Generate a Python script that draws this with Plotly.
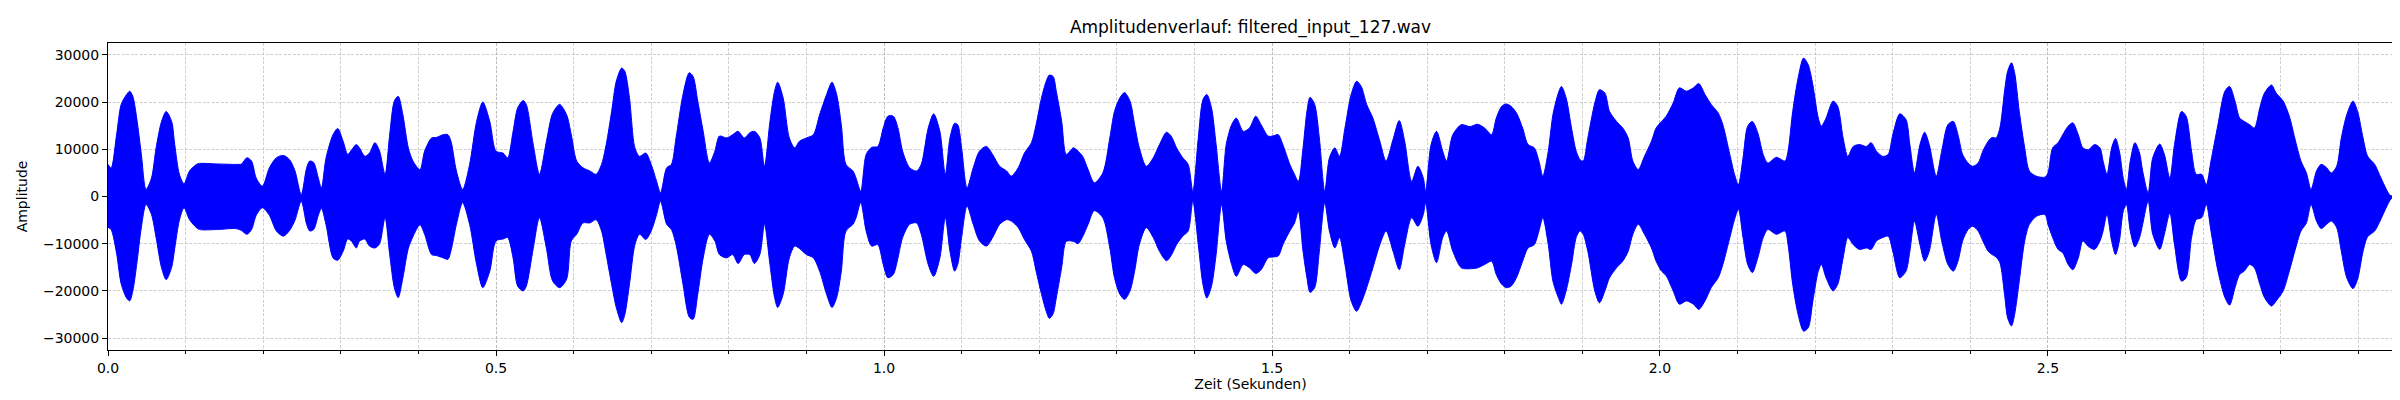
import plotly.graph_objects as go

TITLE = "Amplitudenverlauf: filtered_input_127.wav"

# sample times (s) with the upper / lower envelope of the waveform
TIME = [
    0.000, 0.004, 0.011, 0.017, 0.024, 0.028, 0.032, 0.037, 0.043, 0.049,
    0.056, 0.062, 0.069, 0.075, 0.082, 0.086, 0.092, 0.098, 0.105, 0.114,
    0.118, 0.140, 0.165, 0.172, 0.179, 0.185, 0.191, 0.199, 0.208, 0.217,
    0.226, 0.234, 0.241, 0.249, 0.256, 0.260, 0.265, 0.271, 0.275, 0.281,
    0.290, 0.296, 0.303, 0.309, 0.314, 0.320, 0.324, 0.331, 0.337, 0.344,
    0.350, 0.357, 0.363, 0.369, 0.374, 0.380, 0.387, 0.393, 0.402, 0.408,
    0.417, 0.423, 0.432, 0.438, 0.442, 0.449, 0.457, 0.466, 0.475, 0.483,
    0.492, 0.500, 0.509, 0.515, 0.522, 0.528, 0.535, 0.539, 0.548, 0.556,
    0.565, 0.573, 0.582, 0.591,
    0.597, 0.604, 0.612, 0.621, 0.629, 0.636, 0.642, 0.649, 0.655, 0.662,
    0.666, 0.672, 0.679, 0.685, 0.693, 0.700, 0.707, 0.712, 0.720, 0.726,
    0.732, 0.741, 0.749, 0.754, 0.760, 0.767, 0.775, 0.782, 0.788, 0.797,
    0.805, 0.812, 0.820, 0.827, 0.833, 0.840, 0.846, 0.853, 0.859, 0.863,
    0.870, 0.878, 0.885, 0.891, 0.900, 0.909, 0.917, 0.926, 0.933, 0.939,
    0.945, 0.951, 0.960, 0.964, 0.970, 0.977, 0.984, 0.992, 0.999, 1.005,
    1.012, 1.018, 1.024, 1.033, 1.042, 1.048, 1.057, 1.064, 1.072, 1.079,
    1.085, 1.091, 1.095, 1.100, 1.107, 1.115, 1.123, 1.132, 1.140, 1.149,
    1.158, 1.164, 1.173, 1.181, 1.190,
    1.196, 1.203, 1.209, 1.213, 1.218, 1.222, 1.229, 1.235, 1.244, 1.250,
    1.256, 1.263, 1.271, 1.282, 1.291, 1.297, 1.304, 1.310, 1.317, 1.323,
    1.329, 1.338, 1.347, 1.355, 1.364, 1.370, 1.377, 1.385, 1.392, 1.398,
    1.405, 1.411, 1.416, 1.422, 1.428, 1.435, 1.441, 1.448, 1.454, 1.463,
    1.471, 1.479, 1.486, 1.495, 1.501, 1.508, 1.514, 1.523, 1.529, 1.534,
    1.540, 1.545, 1.549, 1.555, 1.561, 1.568, 1.574, 1.581, 1.587, 1.594,
    1.602, 1.609, 1.615, 1.622, 1.630, 1.639, 1.647, 1.656, 1.664, 1.671,
    1.680, 1.688, 1.695, 1.698, 1.705, 1.712, 1.720, 1.725, 1.733, 1.744,
    1.755, 1.765, 1.774, 1.783,
    1.789, 1.796, 1.802, 1.808, 1.815, 1.823, 1.830, 1.838, 1.844, 1.849,
    1.856, 1.862, 1.869, 1.873, 1.879, 1.886, 1.892, 1.897, 1.901, 1.907,
    1.916, 1.922, 1.929, 1.935, 1.944, 1.952, 1.959, 1.965, 1.972, 1.980,
    1.989, 1.995, 2.002, 2.008, 2.017, 2.025, 2.034, 2.043, 2.050, 2.058,
    2.066, 2.075, 2.081, 2.090, 2.096, 2.101, 2.107, 2.113, 2.119, 2.126,
    2.133, 2.139, 2.150, 2.161, 2.165, 2.171, 2.178, 2.185, 2.191, 2.197,
    2.204, 2.208, 2.214, 2.223, 2.229, 2.236, 2.242, 2.249, 2.257, 2.266,
    2.272, 2.279, 2.287, 2.294, 2.300, 2.309, 2.317, 2.322, 2.328, 2.335,
    2.341, 2.347, 2.356, 2.363, 2.371, 2.378,
    2.384, 2.390, 2.397, 2.403, 2.410, 2.416, 2.423, 2.428, 2.433, 2.438,
    2.444, 2.448, 2.453, 2.457, 2.463, 2.470, 2.476, 2.485, 2.496, 2.500,
    2.506, 2.513, 2.519, 2.526, 2.532, 2.539, 2.545, 2.552, 2.560, 2.567,
    2.571, 2.576, 2.582, 2.587, 2.592, 2.597, 2.601, 2.606, 2.612, 2.618,
    2.622, 2.629, 2.635, 2.644, 2.650, 2.657, 2.663, 2.672, 2.678, 2.685,
    2.691, 2.698, 2.704, 2.710, 2.719, 2.728, 2.734, 2.741, 2.747, 2.753,
    2.760, 2.766, 2.773, 2.779, 2.788, 2.794, 2.803, 2.811, 2.818, 2.826,
    2.833, 2.839, 2.846, 2.852, 2.859, 2.865, 2.872, 2.878, 2.885, 2.893,
    2.899, 2.906, 2.912, 2.921, 2.927, 2.934, 2.940, 2.944,
]

UPPER = [
    6800, 6000, 13000, 19500, 21600, 22300, 21200, 16600, 8900, 1500,
    3900, 10300, 15900, 18000, 15900, 11000, 4700, 2700, 5400, 6800,
    7000, 6900, 6800, 6900, 8200, 7500, 3900, 2200, 6100, 8200,
    8700, 7800, 5400, 400, 6100, 7500, 7200, 3900, 1800, 8200,
    13100, 14400, 11700, 8900, 9900, 11000, 10300, 8500, 9200, 11400,
    9600, 4700, 13100, 20200, 21200, 17300, 10300, 7500, 5700, 9600,
    12400, 12500, 13100, 13100, 11700, 5400, 1500, 6800, 15900, 20000,
    15900, 9600, 9200, 8200, 13800, 18800, 20300, 19500, 11000, 4700,
    11700, 17600, 19500, 17300,
    13100, 7500, 6100, 5400, 4700, 6800, 11000, 18000, 24400, 27200,
    26500, 20900, 10300, 8500, 9200, 6800, 3200, 800, 6100, 6800,
    12400, 21600, 26200, 25400, 20200, 13800, 7100, 9600, 12800, 12400,
    13100, 13800, 12400, 13500, 13800, 12400, 6400, 15900, 22300, 24200,
    20900, 12400, 10300, 11700, 12400, 13100, 17300, 21600, 24200, 21600,
    15200, 6800, 5400, 3900, 1100, 8900, 10400, 10600, 14500, 17000,
    17000, 14500, 9600, 6100, 5400, 6800, 14500, 17500, 13800, 4700,
    12400, 15500, 15200, 10300, 1800, 6100, 9600, 10600, 8900, 6400,
    5400, 4300, 6100, 9200, 11400,
    15200, 20900, 24400, 25700, 25400, 22300, 15900, 8900, 10300, 9600,
    8500, 5700, 2900, 5000, 12400, 18000, 20900, 22000, 20200, 15200,
    10300, 6400, 8200, 11000, 13600, 12800, 10300, 8200, 6800, 1100,
    12400, 20500, 21600, 18800, 11000, 1100, 11000, 15200, 16600, 13800,
    14500, 17000, 15200, 12800, 12800, 13100, 11000, 6800, 4700, 3200,
    10300, 18000, 21000, 19500, 12400, 1100, 8200, 10300, 8500, 14500,
    21600, 24400, 23300, 19500, 16600, 11700, 7500, 12100, 16100, 11700,
    3200, 6400, 3900, 1100, 11000, 13800, 9600, 7500, 13100, 15200,
    14800, 15300, 14500, 13100,
    16600, 19100, 19600, 19100, 17700, 14500, 11000, 10300, 7500, 4300,
    9600, 17300, 21900, 23300, 20900, 14500, 9600, 7800, 7500, 12400,
    19800, 22600, 21900, 18000, 15900, 14500, 12400, 7500, 5700, 8500,
    11700, 14500, 15900, 17000, 19800, 23000, 22300, 23000, 23900, 21600,
    19500, 17700, 15200, 8900, 4700, 2500, 8200, 14900, 15900, 13500,
    8900, 7100, 8300, 7500, 9600, 18000, 25100, 29300, 27900, 23600,
    16600, 14900, 16600, 20200, 19100, 12400, 8500, 10600, 11000, 10600,
    11400, 9600, 8500, 8900, 13100, 17500, 16300, 11000, 5000, 11000,
    13600, 11000, 4300, 9600, 15200, 15900,
    13100, 8900, 7100, 6400, 7100, 9600, 11700, 12500, 12400, 14500,
    22300, 26500, 28300, 26200, 18000, 10300, 5400, 4300, 4100, 5000,
    10300, 11400, 13100, 14900, 15600, 13100, 10300, 9900, 11000, 10300,
    7500, 4700, 10300, 12300, 9600, 3900, 1500, 7500, 11400, 9200,
    5400, 800, 8200, 11100, 8900, 3900, 11000, 18000, 17000, 9600,
    4700, 4700, 2500, 7500, 15200, 22300, 23300, 20200, 16600, 15900,
    15200, 14500, 18800, 21900, 23600, 21900, 20200, 17000, 12400, 7500,
    5000, 1500, 5400, 6800, 6100, 5000, 6400, 12400, 17300, 20200,
    18000, 12400, 8500, 6800, 4700, 2200, 400, 0,
]

LOWER = [
    -6500, -7000, -12000, -18500, -21500, -22100, -20000, -14400, -6500, -1700,
    -3800, -8700, -15100, -17600, -15000, -11000, -5000, -2400, -4900, -6600,
    -7000, -7000, -6800, -7200, -8000, -7000, -4000, -2400, -4000, -7300,
    -8400, -7200, -5000, -1000, -5900, -7300, -7000, -4000, -2500, -6000,
    -13000, -13500, -11600, -9000, -9500, -10900, -9500, -9000, -10500, -10900,
    -10000, -4500, -12300, -19300, -21400, -17200, -11000, -8500, -6000, -8000,
    -12300, -12500, -13000, -13300, -11500, -5900, -1300, -5900, -14400, -19300,
    -15800, -9400, -9000, -8700, -13000, -19000, -20000, -19000, -11000, -4500,
    -11000, -17900, -19300, -17500,
    -9400, -8000, -5600, -5600, -4900, -7300, -12300, -18600, -23500, -26700,
    -25000, -18600, -10200, -8000, -9100, -7300, -3800, -1000, -5900, -7000,
    -10200, -18600, -25500, -26000, -20700, -13000, -8000, -9400, -12300, -13000,
    -12300, -14200, -12300, -12300, -14200, -12300, -5900, -14400, -21400, -23500,
    -20700, -13000, -10500, -11000, -12300, -13000, -15800, -20700, -23500, -21400,
    -15800, -7300, -5900, -4500, -1300, -7300, -10500, -10200, -14400, -17200,
    -16500, -13000, -8700, -5900, -5600, -8000, -14400, -16900, -13000, -4500,
    -11600, -15800, -14400, -8700, -2000, -5900, -9400, -10500, -8700, -5900,
    -4900, -5200, -6600, -9100, -11600,
    -15800, -20700, -24300, -25800, -24800, -21500, -15000, -9500, -9500, -10000,
    -8500, -5900, -3000, -4500, -10900, -17200, -20700, -21800, -20000, -15800,
    -10200, -6600, -8700, -11600, -13600, -12500, -10200, -8400, -7300, -1000,
    -10200, -18600, -21500, -19000, -12300, -1700, -9400, -14400, -16900, -14400,
    -15100, -16300, -15500, -13000, -12800, -12600, -10200, -7300, -5600, -3100,
    -11600, -17200, -20300, -19300, -11600, -1300, -7300, -10900, -8700, -14400,
    -22100, -24300, -22500, -19300, -15100, -10200, -7300, -11600, -15500, -10200,
    -4500, -6300, -3800, -1300, -10200, -14000, -8700, -7300, -11600, -15100,
    -15300, -15100, -14400, -13700,
    -16500, -18600, -19300, -19000, -17200, -13700, -10900, -10200, -7300, -4500,
    -10200, -17900, -21400, -22800, -20000, -14400, -8700, -7300, -8000, -11600,
    -20000, -22500, -20000, -17200, -15100, -13700, -11600, -8000, -5900, -8000,
    -10900, -13700, -15800, -16800, -20000, -22800, -22100, -22800, -23900, -22100,
    -19300, -17200, -14400, -8700, -4900, -2700, -8700, -14400, -16100, -13000,
    -8700, -7000, -8000, -7300, -10200, -18600, -25000, -28500, -27800, -22100,
    -15800, -14400, -17200, -20000, -18600, -13000, -8700, -10200, -11200, -10900,
    -11200, -9400, -8700, -8400, -11600, -17200, -15800, -11600, -5200, -10200,
    -13700, -11600, -3800, -9400, -14400, -15800,
    -13700, -9400, -7000, -6300, -7300, -9400, -11600, -12300, -12800, -14000,
    -20700, -25700, -27400, -25000, -17900, -9400, -5900, -4200, -3800, -5900,
    -8700, -11200, -11900, -14400, -15500, -13000, -9400, -10600, -11200, -9400,
    -7300, -3800, -9400, -12300, -9400, -3100, -1700, -7300, -10700, -8700,
    -5900, -1000, -8000, -11200, -8000, -3500, -10200, -17900, -17200, -8700,
    -4900, -4500, -1700, -7300, -15800, -21400, -23000, -19300, -16500, -15800,
    -14400, -15100, -18600, -21400, -23200, -22100, -20000, -15800, -11600, -7300,
    -5600, -1700, -5200, -6800, -5900, -5200, -6600, -11600, -17200, -19500,
    -17500, -11600, -8500, -7300, -5500, -3000, -1000, -100,
]

X_TICKS = [0.0, 0.5, 1.0, 1.5, 2.0, 2.5]
Y_TICKS = [-30000, -20000, -10000, 0, 10000, 20000, 30000]

GRID = "rgba(176,176,176,0.6)"
DASH = "3px,1.5px"


def plot_waveform():
    # closed outline: upper envelope forward, lower envelope back
    xs = TIME + TIME[::-1]
    ys = UPPER + LOWER[::-1]
    fig = go.Figure(go.Scatter(
        x=xs, y=ys, mode="lines", fill="toself",
        fillcolor="#0000ff",
        line=dict(color="#0000ff", width=1, shape="spline", smoothing=0.8),
        hoverinfo="skip"))

    fig.update_layout(
        width=2400, height=400,
        margin=dict(l=100, r=15, t=35, b=58),
        plot_bgcolor="white", paper_bgcolor="white",
        font=dict(family="DejaVu Sans", size=14, color="black"),
        showlegend=False,
        title=dict(text=TITLE, x=0.5, xref="paper", xanchor="center",
                   y=0.952, yref="container", yanchor="middle",
                   font=dict(size=17)),
    )
    fig.update_xaxes(
        range=[0, 2.9446], tickvals=X_TICKS, tickformat=".1f",
        tickfont=dict(size=14),
        ticks="outside", ticklen=5, tickwidth=1, tickcolor="black",
        showline=True, linecolor="black", linewidth=1, mirror=True,
        showgrid=True, gridcolor=GRID, griddash=DASH, gridwidth=1,
        zeroline=False,
        minor=dict(dtick=0.1, tick0=0, ticks="outside", ticklen=3,
                   tickcolor="black", showgrid=True, gridcolor=GRID,
                   griddash=DASH, gridwidth=1),
        title=dict(text="Zeit (Sekunden)", standoff=4,
                   font=dict(size=14)))
    fig.update_yaxes(
        range=[-32500, 32500], tickvals=Y_TICKS, tickformat="d",
        tickfont=dict(size=14),
        ticks="outside", ticklen=5, tickwidth=1, tickcolor="black",
        showline=True, linecolor="black", linewidth=1, mirror=True,
        showgrid=True, gridcolor=GRID, griddash=DASH, gridwidth=1,
        zeroline=False,
        title=dict(text="Amplitude", standoff=12, font=dict(size=14)))
    return fig


def main():
    fig = plot_waveform()
    fig.write_html("out.html")


if __name__ == "__main__":
    main()
